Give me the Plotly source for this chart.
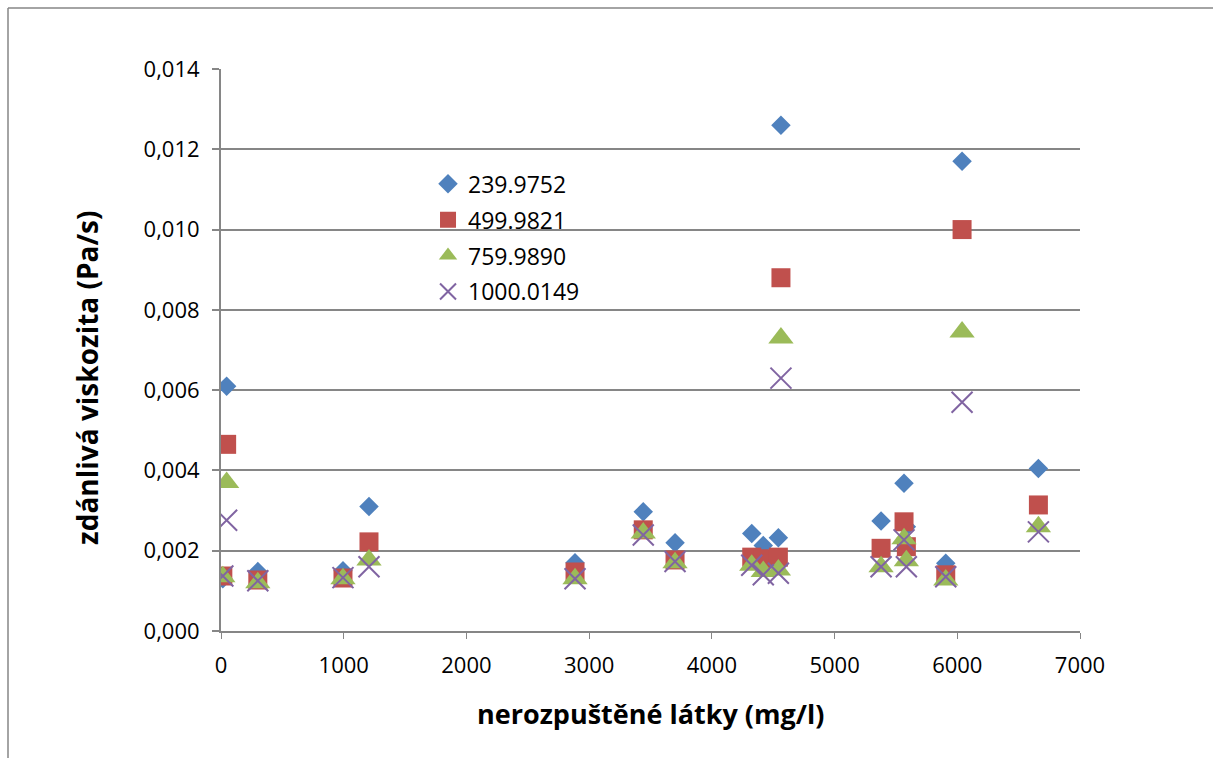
import plotly.graph_objects as go

x_vals = [15, 46, 300, 994, 1206, 2885, 3441, 3700, 4325, 4419, 4542, 4563, 5379, 5566, 5585, 5906, 6039, 6661]

s_239 = [0.0013, 0.0061, 0.00148, 0.0015, 0.0031, 0.0017, 0.00297, 0.0022, 0.00243, 0.00213, 0.00232,
         0.0126, 0.00274, 0.00368, 0.0026, 0.00169, 0.0117, 0.00405]
s_499 = [0.00137, 0.00465, 0.00127, 0.00132, 0.00222, 0.00147, 0.00252, 0.00177, 0.00184, 0.0018, 0.00184,
         0.0088, 0.00206, 0.00272, 0.0021, 0.0014, 0.0100, 0.00314]
s_759 = [0.00135, 0.0037, 0.0012, 0.0013, 0.00177, 0.0013, 0.00244, 0.0017, 0.00164, 0.00148, 0.00152,
         0.0073, 0.0016, 0.0023, 0.00175, 0.00127, 0.00745, 0.0026]
s_1000 = [0.00137, 0.00276, 0.00125, 0.00133, 0.0016, 0.0013, 0.00239, 0.00173, 0.00164, 0.0014, 0.00144,
          0.0063, 0.0016, 0.00227, 0.0016, 0.00135, 0.0057, 0.00247]

names = ["239.9752", "499.9821", "759.9890", "1000.0149"]
series = [s_239, s_499, s_759, s_1000]
colors = ["#4F81BD", "#C0504D", "#9BBB59", "#8064A2"]
symbols = ["diamond", "square", "triangle-up", "x-thin"]
sizes = [15, 19, 22, 21]

fig = go.Figure()
for name, ys, c, sym, sz in zip(names, series, colors, symbols, sizes):
    if sym == "x-thin":
        marker = dict(symbol=sym, size=sz, color=c, line=dict(color=c, width=2))
    else:
        marker = dict(symbol=sym, size=sz, color=c, line=dict(width=0))
    fig.add_trace(go.Scatter(x=x_vals, y=ys, mode="markers", name=name, marker=marker,
                             legendgroup=name))

font_fam = "Open Sans, Noto Sans, sans-serif"
fig.update_layout(
    width=1213, height=758,
    margin=dict(l=221, r=133, t=69, b=127),
    paper_bgcolor="white", plot_bgcolor="white",
    separators=", ",
    font=dict(family=font_fam, size=22, color="black"),
    showlegend=True,
    legend=dict(x=0.241, y=0.834, xanchor="left", yanchor="top",
                bgcolor="rgba(0,0,0,0)", font=dict(size=23, family=font_fam),
                itemsizing="trace", tracegroupgap=3),
    xaxis=dict(range=[0, 7000], dtick=1000, tick0=0, showgrid=False, zeroline=False,
               showline=True, linecolor="#868686", linewidth=2,
               ticks="outside", ticklen=6, tickcolor="#868686", tickwidth=1,
               tickfont=dict(size=22), ticklabelstandoff=8),
    yaxis=dict(range=[0, 0.014], dtick=0.002, tick0=0, tickformat=".3f",
               showgrid=True, gridcolor="#868686", gridwidth=2, zeroline=False,
               showline=True, linecolor="#868686", linewidth=2,
               ticks="outside", ticklen=7, tickcolor="#868686", tickwidth=2,
               tickfont=dict(size=22), ticklabelstandoff=8),
    annotations=[
        dict(text="<b>nerozpuštěné látky (mg/l)</b>", xref="paper", yref="paper",
             x=(650 - 221) / 859, y=(631 - 713) / 562, xanchor="center", yanchor="middle",
             showarrow=False, font=dict(size=27, family=font_fam)),
        dict(text="<b>zdánlivá viskozita (Pa/s)</b>", xref="paper", yref="paper",
             x=(87 - 221) / 859, y=(631 - 378) / 562, xanchor="center", yanchor="middle",
             textangle=-90, showarrow=False, font=dict(size=28, family=font_fam)),
    ],
)

# outer chart border (left and top edges visible)
fig.add_shape(type="line", xref="paper", yref="paper",
              x0=(8 - 221) / 859, x1=(8 - 221) / 859, y0=(631 - 760) / 562, y1=1 + (69 - 8) / 562,
              line=dict(color="#868686", width=1.5))
fig.add_shape(type="line", xref="paper", yref="paper",
              x0=(8 - 221) / 859, x1=(1215 - 221) / 859, y0=1 + (69 - 8) / 562, y1=1 + (69 - 8) / 562,
              line=dict(color="#868686", width=1.5))

fig.write_html("out.html")
